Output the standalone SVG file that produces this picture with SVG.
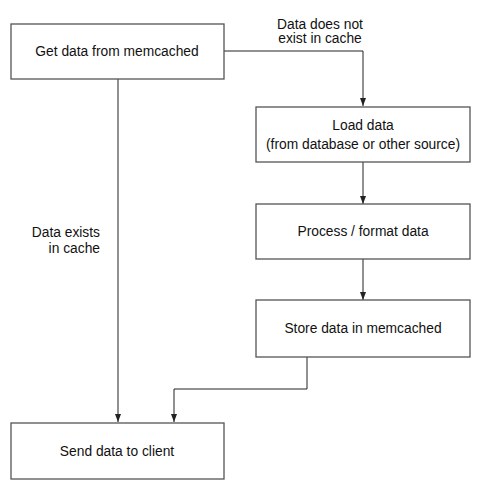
<svg xmlns="http://www.w3.org/2000/svg" width="481" height="495" viewBox="0 0 481 495">
<style>
.box{fill:#fff;stroke:#555;stroke-width:1.3}
.t{font-family:"Liberation Sans",Arial,sans-serif;font-size:13.8px;fill:#111;text-anchor:middle}
.r{text-anchor:end}
.c{fill:none;stroke:#222;stroke-width:1}
</style>
<defs>
<marker id="ah" viewBox="0 0 8 8" refX="8" refY="4" markerWidth="8" markerHeight="8" markerUnits="userSpaceOnUse" orient="auto">
<path d="M0,1 L8,4 L0,7 Z" fill="#222"/>
</marker>
</defs>
<rect width="481" height="495" fill="#fff"/>
<g id="connectors">
<path class="c" d="M224,51 H363 V106" marker-end="url(#ah)"/>
<path class="c" d="M118,79 V422" marker-end="url(#ah)"/>
<path class="c" d="M363,162 V204" marker-end="url(#ah)"/>
<path class="c" d="M363,259 V300" marker-end="url(#ah)"/>
<path class="c" d="M307,357 V389 H174 V422" marker-end="url(#ah)"/>
<text class="t" x="320" y="29">Data does not</text>
<text class="t" x="320" y="43">exist in cache</text>
<text class="t r" x="100" y="237">Data exists</text>
<text class="t r" x="100" y="253">in cache</text>
</g>
<g id="get">
<rect class="box" x="11" y="24" width="213" height="55"/>
<text class="t" x="117" y="56">Get data from memcached</text>
</g>
<g id="load">
<rect class="box" x="256" y="107" width="214" height="55"/>
<text class="t" x="363" y="130">Load data</text>
<text class="t" x="363" y="149">(from database or other source)</text>
</g>
<g id="process">
<rect class="box" x="256" y="204" width="214" height="55"/>
<text class="t" x="363" y="236">Process / format data</text>
</g>
<g id="store">
<rect class="box" x="256" y="300" width="214" height="57"/>
<text class="t" x="363" y="333">Store data in memcached</text>
</g>
<g id="send">
<rect class="box" x="11" y="423" width="213" height="56"/>
<text class="t" x="117" y="456">Send data to client</text>
</g>
</svg>
